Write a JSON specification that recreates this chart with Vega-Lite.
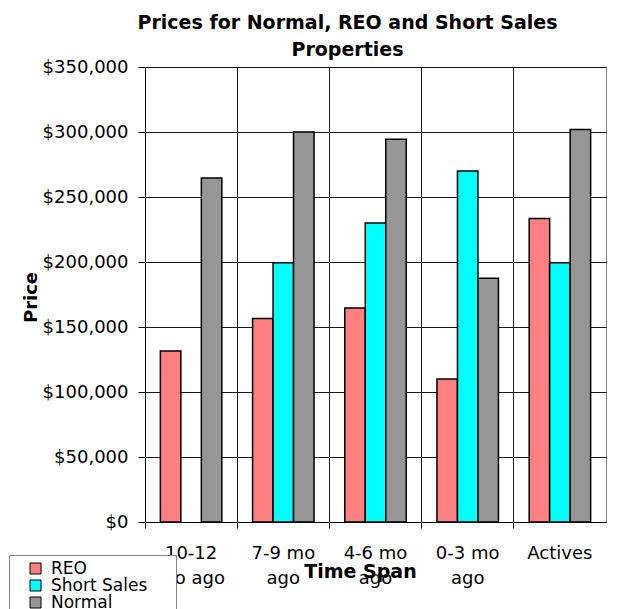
{
  "$schema": "https://vega.github.io/schema/vega-lite/v6.json",
  "width": 461,
  "height": 455,
  "autosize": {"type": "none"},
  "padding": {"left": 145, "top": 67, "right": 34, "bottom": 87},
  "background": "white",
  "title": {
    "text": ["Prices for Normal, REO and Short  Sales", "Properties"],
    "font": "DejaVu Sans",
    "fontSize": 19,
    "fontWeight": "bold",
    "color": "black",
    "lineHeight": 27,
    "anchor": "middle",
    "frame": "group",
    "dx": -28,
    "offset": -2
  },
  "config": {
    "view": {"stroke": "#808080", "strokeWidth": 1},
    "axis": {
      "labelFont": "DejaVu Sans",
      "titleFont": "DejaVu Sans",
      "labelColor": "black",
      "titleColor": "black",
      "domainColor": "black",
      "tickColor": "black",
      "gridColor": "black",
      "gridOpacity": 0.9,
      "labelFontSize": 18,
      "titleFontSize": 18,
      "titleFontWeight": "bold"
    }
  },
  "data": {
    "values": [
      {"span": "10-12 mo ago", "type": "REO", "price": 131500},
      {"span": "10-12 mo ago", "type": "Normal", "price": 264600},
      {"span": "7-9 mo ago", "type": "REO", "price": 156500},
      {"span": "7-9 mo ago", "type": "Short Sales", "price": 199500},
      {"span": "7-9 mo ago", "type": "Normal", "price": 300000},
      {"span": "4-6 mo ago", "type": "REO", "price": 164600},
      {"span": "4-6 mo ago", "type": "Short Sales", "price": 230000},
      {"span": "4-6 mo ago", "type": "Normal", "price": 294500},
      {"span": "0-3 mo ago", "type": "REO", "price": 110000},
      {"span": "0-3 mo ago", "type": "Short Sales", "price": 270000},
      {"span": "0-3 mo ago", "type": "Normal", "price": 187500},
      {"span": "Actives", "type": "REO", "price": 233500},
      {"span": "Actives", "type": "Short Sales", "price": 199500},
      {"span": "Actives", "type": "Normal", "price": 302000}
    ]
  },
  "mark": {"type": "bar", "stroke": "black", "strokeWidth": 1.5},
  "encoding": {
    "x": {
      "field": "span",
      "type": "nominal",
      "sort": ["10-12 mo ago", "7-9 mo ago", "4-6 mo ago", "0-3 mo ago", "Actives"],
      "scale": {"paddingInner": 0, "paddingOuter": 0},
      "axis": {
        "title": "Time Span",
        "bandPosition": 0,
        "labelOffset": 0,
        "labelAngle": 0,
        "labelAlign": "center",
        "grid": true,
        "tickSize": 6,
        "labelPadding": 16,
        "labelLineHeight": 25,
        "labelOverlap": false,
        "labelBound": false,
        "labelLimit": 0,
        "labelExpr": "datum.label == '10-12 mo ago' ? ['10-12', 'mo ago'] : (datum.label == 'Actives' ? 'Actives' : [replace(datum.label, ' ago', ''), 'ago'])",
        "titleFontSize": 19,
        "titleX": 215,
        "titleY": 55,
        "titleBaseline": "alphabetic",
        "titleAnchor": "middle",
        "titleAlign": "center"
      }
    },
    "xOffset": {
      "field": "type",
      "type": "nominal",
      "sort": ["REO", "Short Sales", "Normal"],
      "scale": {"domain": ["REO", "Short Sales", "Normal"], "paddingInner": 0, "paddingOuter": 0.75}
    },
    "y": {
      "field": "price",
      "type": "quantitative",
      "scale": {"domain": [0, 350000], "nice": false},
      "axis": {
        "title": "Price",
        "values": [0, 50000, 100000, 150000, 200000, 250000, 300000, 350000],
        "format": "$,.0f",
        "grid": true,
        "tickSize": 7,
        "labelPadding": 10,
        "titleX": -109,
        "titleY": 230,
        "titleAngle": 270,
        "titleBaseline": "alphabetic",
        "titleAlign": "center"
      }
    },
    "color": {
      "field": "type",
      "type": "nominal",
      "scale": {"domain": ["REO", "Short Sales", "Normal"], "range": ["#FF8080", "#00FFFF", "#969696"]},
      "legend": {
        "orient": "none",
        "legendX": -136,
        "legendY": 488,
        "title": " ",
        "titleOrient": "right",
        "titlePadding": 24,
        "titleFontSize": 17,
        "direction": "vertical",
        "fillColor": "white",
        "strokeColor": "#808080",
        "padding": 5,
        "symbolOffset": 13,
        "symbolType": "square",
        "symbolSize": 121,
        "symbolStrokeColor": "black",
        "symbolStrokeWidth": 1,
        "symbolOpacity": 1,
        "labelFont": "DejaVu Sans",
        "labelFontSize": 17,
        "labelColor": "black",
        "labelOffset": 7,
        "rowPadding": -1
      }
    }
  }
}
